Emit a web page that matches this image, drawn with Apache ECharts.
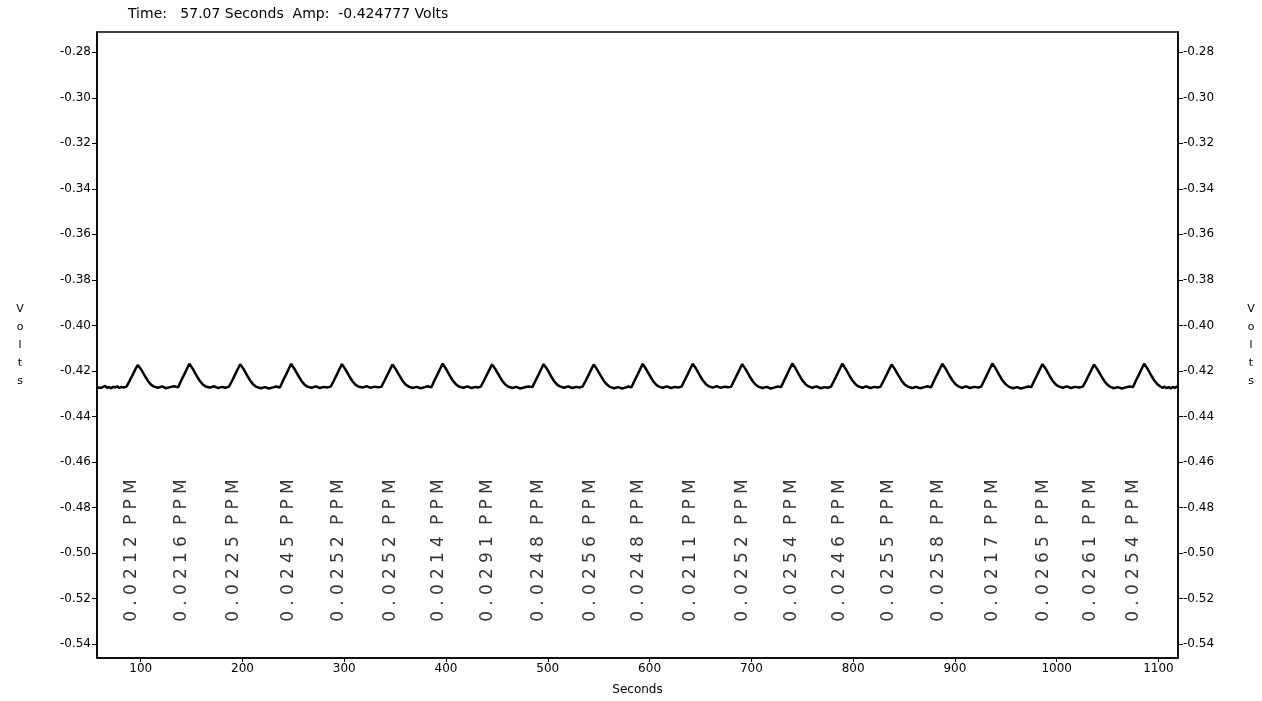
<!DOCTYPE html>
<html>
<head>
<meta charset="utf-8">
<script src="https://cdn.jsdelivr.net/npm/echarts@6/dist/echarts.min.js"></script>
<style>
html,body{margin:0;padding:0;background:#fff;}
#chart{width:1262px;height:701px;}
</style>
</head>
<body>
<div id="chart"></div>
<script>
// ---- data ----
const titleText = 'Time:   57.07 Seconds  Amp:  -0.424777 Volts';
const xMin = 57.07;
const xMax = 1119.2;
const yMin = -0.5461;
const yMax = -0.2711;
const xTicks = [100, 200, 300, 400, 500, 600, 700, 800, 900, 1000, 1100];
const yTicks = [-0.54, -0.52, -0.50, -0.48, -0.46, -0.44, -0.42, -0.40, -0.38, -0.36, -0.34, -0.32, -0.30, -0.28];

const ppmLabels = ['0.0212 PPM','0.0216 PPM','0.0225 PPM','0.0245 PPM','0.0252 PPM','0.0252 PPM','0.0214 PPM',
  '0.0291 PPM','0.0248 PPM','0.0256 PPM','0.0248 PPM','0.0211 PPM','0.0252 PPM','0.0254 PPM','0.0246 PPM',
  '0.0255 PPM','0.0258 PPM','0.0217 PPM','0.0265 PPM','0.0261 PPM','0.0254 PPM'];
const ppmTimes = [91.2, 140.4, 191.1, 245.2, 294.3, 345.2, 392.4, 440.6, 490.7, 541.8, 589.0,
  640.2, 691.3, 739.5, 786.7, 834.9, 884.0, 937.1, 987.2, 1033.5, 1075.8];
const ppmLevel = -0.4989;

// signal trace [seconds, volts]
const trace = [
 [57.1,-0.4272],[59,-0.4268],[61,-0.4275],[63,-0.4270],[65,-0.4266],[67,-0.4274],[69,-0.4271],[71,-0.4276],[73,-0.4269],[75,-0.4273],[77,-0.4267],[79,-0.4275],[81,-0.4270],[83,-0.4273],[86.1,-0.4269],
 [89.1,-0.4243],[92.1,-0.4217],[95.1,-0.4190],[97.1,-0.4174],[100.1,-0.4191],[104.1,-0.4222],[107.1,-0.4244],[110.1,-0.4260],[113.1,-0.4269],[117,-0.4274],[121,-0.4268],[125,-0.4276],[129,-0.4271],[133,-0.4267],
 [136.8,-0.4272],[139.8,-0.4242],[142.8,-0.4215],[145.8,-0.4187],[147.8,-0.4168],[150.8,-0.4188],[154.8,-0.4220],[157.8,-0.4242],[160.8,-0.4258],[163.8,-0.4268],[168,-0.4273],[172,-0.4267],[176,-0.4275],[180,-0.4270],[183,-0.4274],
 [186.7,-0.4269],[189.7,-0.4244],[192.7,-0.4216],[195.7,-0.4189],[197.7,-0.4171],[200.7,-0.4189],[204.7,-0.4221],[207.7,-0.4243],[210.7,-0.4260],[213.7,-0.4270],[218,-0.4276],[222,-0.4271],[226,-0.4277],[230,-0.4272],[233,-0.4268],
 [236.8,-0.4273],[239.8,-0.4243],[242.8,-0.4216],[245.8,-0.4188],[247.8,-0.4169],[250.8,-0.4189],[254.8,-0.4220],[257.8,-0.4243],[260.8,-0.4259],[263.8,-0.4269],[268,-0.4274],[272,-0.4268],[276,-0.4275],[280,-0.4270],[283,-0.4273],
 [286.7,-0.4269],[289.7,-0.4243],[292.7,-0.4216],[295.7,-0.4188],[297.7,-0.4170],[300.7,-0.4190],[304.7,-0.4221],[307.7,-0.4243],[310.7,-0.4259],[313.7,-0.4268],[318,-0.4273],[322,-0.4267],[326,-0.4274],[330,-0.4269],[333,-0.4272],
 [336.4,-0.4270],[339.4,-0.4244],[342.4,-0.4217],[345.4,-0.4190],[347.4,-0.4172],[350.4,-0.4191],[354.4,-0.4222],[357.4,-0.4244],[360.4,-0.4260],[363.4,-0.4269],[367,-0.4275],[371,-0.4270],[375,-0.4276],[379,-0.4271],[382,-0.4267],
 [385.6,-0.4272],[388.6,-0.4242],[391.6,-0.4215],[394.6,-0.4187],[396.6,-0.4168],[399.6,-0.4188],[403.6,-0.4220],[406.6,-0.4242],[409.6,-0.4258],[412.6,-0.4268],[417,-0.4274],[421,-0.4268],[425,-0.4275],[429,-0.4270],[431,-0.4273],
 [434.2,-0.4269],[437.2,-0.4243],[440.2,-0.4216],[443.2,-0.4189],[445.2,-0.4171],[448.2,-0.4190],[452.2,-0.4221],[455.2,-0.4243],[458.2,-0.4259],[461.2,-0.4269],[465,-0.4275],[469,-0.4270],[473,-0.4277],[477,-0.4272],[481,-0.4268],
 [484.9,-0.4271],[487.9,-0.4243],[490.9,-0.4216],[493.9,-0.4188],[495.9,-0.4170],[498.9,-0.4189],[502.9,-0.4221],[505.9,-0.4243],[508.9,-0.4259],[511.9,-0.4268],[516,-0.4274],[520,-0.4268],[524,-0.4275],[528,-0.4270],[531,-0.4273],
 [534.1,-0.4269],[537.1,-0.4244],[540.1,-0.4217],[543.1,-0.4190],[545.1,-0.4172],[548.1,-0.4191],[552.1,-0.4222],[555.1,-0.4244],[558.1,-0.4260],[561.1,-0.4270],[565,-0.4276],[569,-0.4271],[573,-0.4277],[577,-0.4272],[579,-0.4268],
 [582.2,-0.4272],[585.2,-0.4243],[588.2,-0.4216],[591.2,-0.4188],[593.2,-0.4169],[596.2,-0.4189],[600.2,-0.4220],[603.2,-0.4243],[606.2,-0.4259],[609.2,-0.4269],[613,-0.4274],[617,-0.4268],[621,-0.4275],[625,-0.4270],[628,-0.4273],
 [631.4,-0.4269],[634.4,-0.4242],[637.4,-0.4215],[640.4,-0.4187],[642.4,-0.4168],[645.4,-0.4188],[649.4,-0.4220],[652.4,-0.4242],[655.4,-0.4258],[658.4,-0.4268],[662,-0.4273],[666,-0.4267],[670,-0.4274],[674,-0.4269],[677,-0.4272],
 [680,-0.4270],[683,-0.4243],[686,-0.4216],[689,-0.4188],[691,-0.4170],[694,-0.4190],[698,-0.4221],[701,-0.4243],[704,-0.4259],[707,-0.4269],[711,-0.4275],[715,-0.4270],[719,-0.4277],[723,-0.4272],[726,-0.4268],
 [729.2,-0.4271],[732.2,-0.4242],[735.2,-0.4214],[738.2,-0.4186],[740.2,-0.4167],[743.2,-0.4187],[747.2,-0.4219],[750.2,-0.4242],[753.2,-0.4258],[756.2,-0.4268],[760,-0.4274],[764,-0.4268],[768,-0.4276],[772,-0.4271],[775,-0.4274],
 [778.3,-0.4269],[781.3,-0.4242],[784.3,-0.4215],[787.3,-0.4187],[789.3,-0.4168],[792.3,-0.4188],[796.3,-0.4220],[799.3,-0.4242],[802.3,-0.4258],[805.3,-0.4268],[809,-0.4274],[813,-0.4268],[817,-0.4275],[821,-0.4270],[824,-0.4273],
 [826.8,-0.4270],[829.8,-0.4244],[832.8,-0.4217],[835.8,-0.4190],[837.8,-0.4172],[840.8,-0.4191],[844.8,-0.4222],[847.8,-0.4244],[850.8,-0.4260],[853.8,-0.4269],[858,-0.4275],[862,-0.4270],[866,-0.4276],[870,-0.4271],[873,-0.4267],
 [876.6,-0.4272],[879.6,-0.4242],[882.6,-0.4215],[885.6,-0.4187],[887.6,-0.4168],[890.6,-0.4188],[894.6,-0.4220],[897.6,-0.4242],[900.6,-0.4258],[903.6,-0.4268],[907,-0.4274],[911,-0.4268],[915,-0.4275],[919,-0.4270],[923,-0.4273],
 [925.8,-0.4269],[928.8,-0.4242],[931.8,-0.4214],[934.8,-0.4186],[936.8,-0.4167],[939.8,-0.4187],[943.8,-0.4219],[946.8,-0.4242],[949.8,-0.4258],[952.8,-0.4269],[957,-0.4276],[961,-0.4271],[965,-0.4277],[969,-0.4272],[972,-0.4268],
 [975,-0.4271],[978,-0.4243],[981,-0.4216],[984,-0.4188],[986,-0.4170],[989,-0.4189],[993,-0.4221],[996,-0.4243],[999,-0.4259],[1002,-0.4268],[1006,-0.4274],[1010,-0.4268],[1014,-0.4275],[1018,-0.4270],[1022,-0.4273],
 [1025.7,-0.4269],[1028.7,-0.4244],[1031.7,-0.4217],[1034.7,-0.4190],[1036.7,-0.4172],[1039.7,-0.4191],[1043.7,-0.4222],[1046.7,-0.4244],[1049.7,-0.4260],[1052.7,-0.4270],[1056,-0.4276],[1060,-0.4271],[1064,-0.4277],[1068,-0.4272],[1072,-0.4268],
 [1074.9,-0.4271],[1077.9,-0.4242],[1080.9,-0.4215],[1083.9,-0.4187],[1085.9,-0.4168],[1088.9,-0.4188],[1092.9,-0.4220],[1095.9,-0.4242],[1098.9,-0.4258],[1101.9,-0.4268],
 [1104,-0.4274],[1106,-0.4269],[1108,-0.4276],[1110,-0.4271],[1112,-0.4277],[1114,-0.4270],[1116,-0.4275],[1118,-0.4269],[1119.2,-0.4273]
];

// ---- chart ----
const FONT = 'DejaVu Sans';
const black = '#000';
const axisLabelStyle = { fontFamily: FONT, fontSize: 12, color: black };

function yAxisDef(pos, gap) {
  return {
    type: 'value', position: pos, min: yMin, max: yMax,
    name: 'V\no\nl\nt\ns', nameLocation: 'middle', nameRotate: 0, nameGap: gap,
    nameTextStyle: { fontFamily: FONT, fontSize: 11, color: black, lineHeight: 18, align: 'center', verticalAlign: 'middle' },
    axisLine: { show: true, lineStyle: { color: black, width: 1.5 } },
    axisTick: { show: true, length: 5, customValues: yTicks, lineStyle: { color: black, width: 1 } },
    axisLabel: Object.assign({ customValues: yTicks, margin: pos === 'left' ? 6 : 5, formatter: v => v.toFixed(2) }, axisLabelStyle),
    splitLine: { show: false }
  };
}

const chart = echarts.init(document.getElementById('chart'), null, { renderer: 'canvas' });
chart.setOption({
  animation: false,
  backgroundColor: '#fff',
  title: { text: titleText, left: 128, top: 7, padding: 0,
    textStyle: { fontFamily: FONT, fontSize: 14, fontWeight: 'normal', color: black } },
  grid: { left: 97, right: 84, top: 32, bottom: 37, show: true, borderColor: black, borderWidth: 1.5, backgroundColor: '#fff' },
  xAxis: {
    type: 'value', min: xMin, max: xMax,
    name: 'Seconds', nameLocation: 'middle', nameGap: 26,
    nameTextStyle: { fontFamily: FONT, fontSize: 12, color: black },
    axisLine: { show: true, onZero: false, lineStyle: { color: black, width: 1.5 } },
    axisTick: { show: true, length: 4, customValues: xTicks, lineStyle: { color: black, width: 1 } },
    axisLabel: Object.assign({ customValues: xTicks, margin: 5, formatter: v => String(v) }, axisLabelStyle),
    splitLine: { show: false }
  },
  yAxis: [yAxisDef('left', 77), yAxisDef('right', 73)],
  series: [
    {
      type: 'line', data: trace, yAxisIndex: 0, showSymbol: false, symbol: 'none',
      lineStyle: { color: black, width: 2.5 }, clip: true, silent: true
    },
    {
      type: 'scatter', yAxisIndex: 0, symbolSize: 0, silent: true,
      data: ppmTimes.map(t => [t, ppmLevel]),
      label: {
        show: true, position: 'inside', rotate: 90,
        formatter: p => ppmLabels[p.dataIndex].split('').map(c => c === ' ' ? '{sp| }' : '{g|' + c + '}').join(''),
        rich: {
          g: { fontFamily: 'DejaVu Sans', fontSize: 17, color: black, padding: [0, 2.6, 0, 2.6] },
          sp: { fontFamily: 'DejaVu Sans', fontSize: 17, width: 6 }
        }
      }
    }
  ]
});
</script>
</body>
</html>
